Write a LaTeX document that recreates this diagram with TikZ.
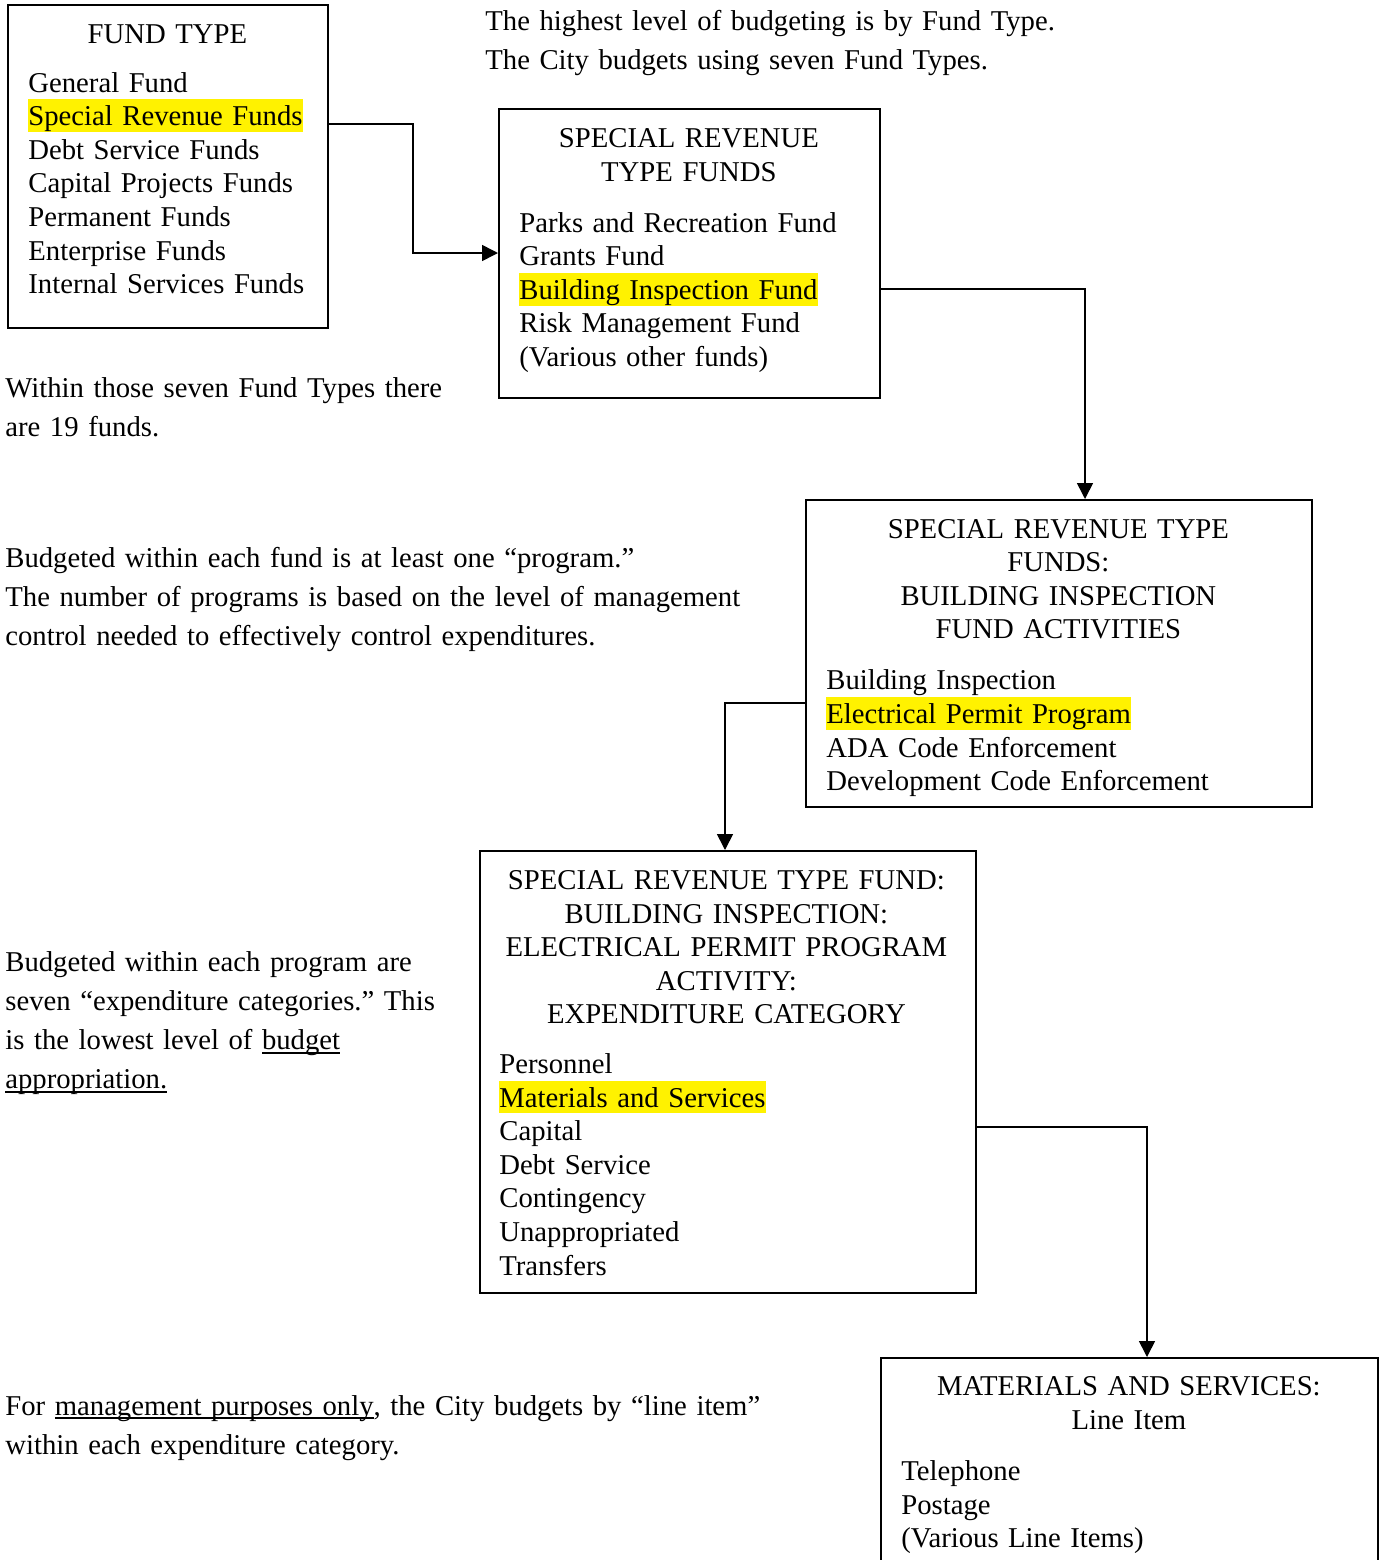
\documentclass[tikz,border=0pt]{standalone}
\usepackage{fontspec}
\setmainfont{Liberation Serif}
\usepackage{xcolor}
\usetikzlibrary{arrows.meta, calc, positioning}

\newcommand{\hilite}[1]{{\setlength{\fboxsep}{0pt}\colorbox{yellow}{\rule[-0.2em]{0pt}{1.12em}#1}}}
\newcommand{\undl}[1]{\leavevmode\setbox0\hbox{#1}\rlap{\rule[-0.14em]{\wd0}{0.06em}}\box0}
\newcommand{\boxtitle}[1]{\makebox[\linewidth]{#1}}

\tikzset{
  box/.style={draw, line width=1pt, anchor=north west, inner sep=0pt},
  boxtext/.style={anchor=base west, align=left, inner sep=0pt, font=\fontsize{14.35pt}{16.8pt}\selectfont\frenchspacing},
  note/.style={anchor=base west, align=left, inner sep=0pt, text width=420pt, font=\fontsize{14.35pt}{19.65pt}\selectfont\frenchspacing},
  arr/.style={-{Triangle[length=8pt, width=8pt]}, line width=0.8pt}
}

\begin{document}
\begin{tikzpicture}[x=0.5pt, y=-0.5pt]
  \useasboundingbox[fill=white] (0,0) rectangle (1383,1560);

  \node[box, minimum width=160pt, minimum height=161.5pt] (fundtype) at (7,4) {};
  \node[box, minimum width=190.5pt, minimum height=144.5pt] (srfunds) at (498,108) {};
  \node[box, minimum width=253pt, minimum height=153.5pt] (bifund) at (805,499) {};
  \node[box, minimum width=248pt, minimum height=221pt] (eppact) at (479,850) {};
  \node[box, minimum width=248.5pt, minimum height=120pt] (mands) at (880,1357) {};

  \node[boxtext, text width=139pt] (fundtypelist) at (28,43) {\boxtitle{FUND TYPE}\\[7.7pt]
    General Fund\\ \hilite{Special Revenue Funds}\\ Debt Service Funds\\ Capital Projects Funds\\
    Permanent Funds\\ Enterprise Funds\\ Internal Services Funds};
  \node[boxtext, text width=169.5pt] (srfundslist) at (519,147.5) {\boxtitle{SPECIAL REVENUE}\\ \boxtitle{TYPE FUNDS}\\[8.7pt]
    Parks and Recreation Fund\\ Grants Fund\\ \hilite{Building Inspection Fund}\\ Risk Management Fund\\
    (Various other funds)};
  \node[boxtext, text width=232pt] (bifundlist) at (826,538) {\boxtitle{SPECIAL REVENUE TYPE}\\ \boxtitle{FUNDS:}\\
    \boxtitle{BUILDING INSPECTION}\\ \boxtitle{FUND ACTIVITIES}\\[8.7pt]
    Building Inspection\\ \hilite{Electrical Permit Program}\\ ADA Code Enforcement\\ Development Code Enforcement};
  \node[boxtext, text width=227pt] (eppactlist) at (499,889.5) {\boxtitle{SPECIAL REVENUE TYPE FUND:}\\
    \boxtitle{BUILDING INSPECTION:}\\ \boxtitle{ELECTRICAL PERMIT PROGRAM}\\ \boxtitle{ACTIVITY:}\\
    \boxtitle{EXPENDITURE CATEGORY}\\[8pt]
    Personnel\\ \hilite{Materials and Services}\\ Capital\\ Debt Service\\ Contingency\\ Unappropriated\\ Transfers};
  \node[boxtext, text width=227.5pt] (mandslist) at (901,1395.5) {\boxtitle{MATERIALS AND SERVICES:}\\ \boxtitle{Line Item}\\[9pt]
    Telephone\\ Postage\\ (Various Line Items)};

  \node[note] (topnote) at (485,30.5) {The highest level of budgeting is by Fund Type.\\
    The City budgets using seven Fund Types.};
  \node[note] (fundnote) at (5,397) {Within those seven Fund Types there\\ are 19 funds.};
  \node[note] (prognote) at (5,567) {Budgeted within each fund is at least one “program.”\\
    The number of programs is based on the level of management\\
    control needed to effectively control expenditures.};
  \node[note] (catnote) at (5,971) {Budgeted within each program are\\ seven “expenditure categories.” This\\
    is the lowest level of \undl{budget}\\ \undl{appropriation.}};
  \node[note] (linenote) at (5,1415) {For \undl{management purposes only}, the City budgets by “line item”\\
    within each expenditure category.};

  \draw[arr] ($(fundtype.north east)+(0,120)$) -- ++(84,0) |- ($(srfunds.north west)+(0,145)$);
  \draw[arr] ($(srfunds.north east)+(0,181)$) -| ($(bifund.north)+(26,0)$);
  \draw[arr] ($(bifund.north west)+(0,204)$) -| ($(eppact.north)+(-3,0)$);
  \draw[arr] ($(eppact.north east)+(0,277)$) -| ($(mands.north)+(17.5,0)$);
\end{tikzpicture}
\end{document}
